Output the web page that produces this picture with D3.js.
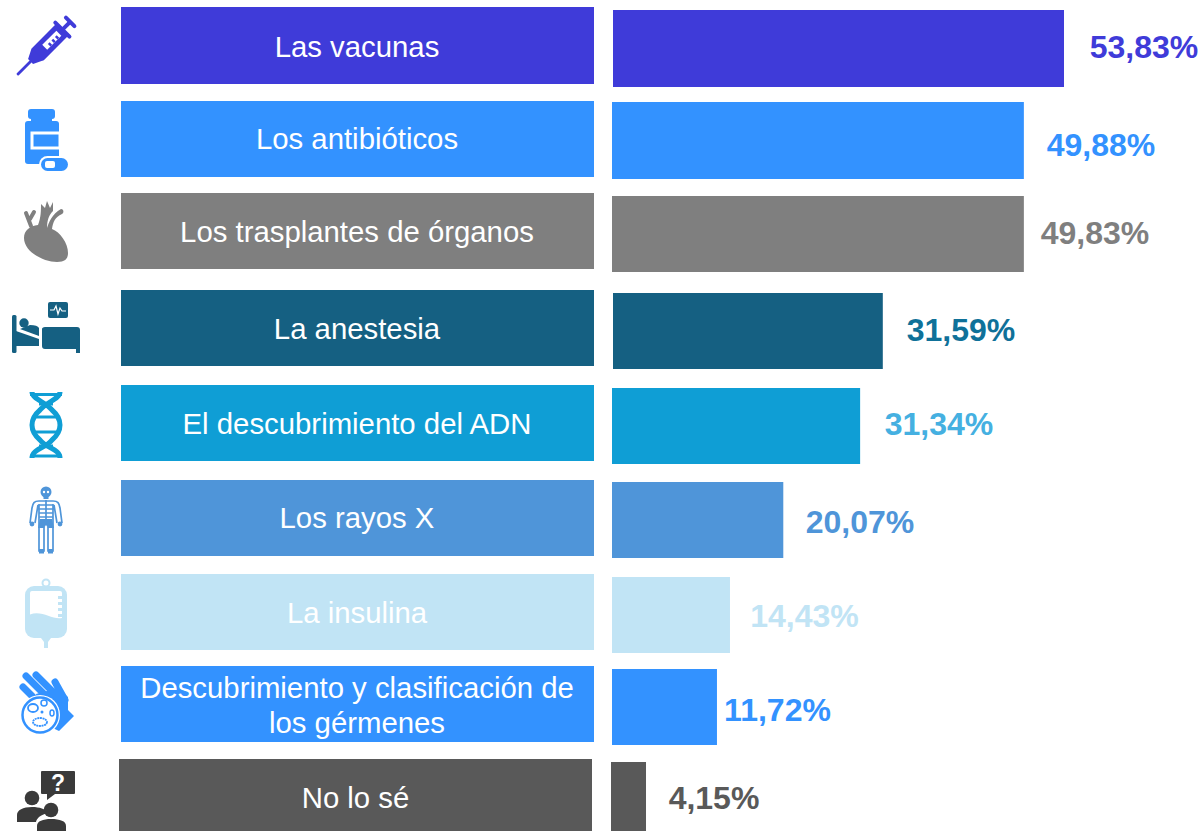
<!DOCTYPE html>
<html><head><meta charset="utf-8">
<script src="https://cdnjs.cloudflare.com/ajax/libs/d3/7.8.5/d3.min.js"></script>
<style>html,body{margin:0;padding:0;background:#fff}svg{display:block}text{font-family:"Liberation Sans",Arial,sans-serif}</style>
</head><body><svg id="c" width="1202" height="831"></svg>
<script>
const categories=["Las vacunas","Los antibióticos","Los trasplantes de órganos","La anestesia","El descubrimiento del ADN","Los rayos X","La insulina","Descubrimiento y clasificación de|los gérmenes","No lo sé"];
const printedLabels=["53,83%","49,88%","49,83%","31,59%","31,34%","20,07%","14,43%","11,72%","4,15%"];
// Lengths as drawn in the picture (the printed figures and the bar lengths differ slightly)
const drawnValues=[53.83,49.05,49.05,32.25,29.55,20.4,14.05,12.5,4.05];
const barColors=["#3F3BD9","#3392FF","#7F7F7F","#156082","#0F9ED5","#4F95D9","#C1E4F5","#3392FF","#595959"];
const valueColors=["#3F3BD9","#3392FF","#7F7F7F","#0F7199","#45B0E1","#4F95D9","#C1E4F5","#3392FF","#595959"];
const iconColors=["#3F3BD9","#3392FF","#7F7F7F","#156082","#0F9ED5","#4F95D9","#C1E4F5","#3392FF","#3A3A3A"];

const svg=d3.select("#c");
const keys=categories.map((_,i)=>i);
const x=d3.scaleLinear().domain([0,53.83]).range([612,1064]);
const labelTop=d3.scaleOrdinal(keys,[7,101,193,290,385,480,574,666,759]);
const labelBottom=d3.scaleOrdinal(keys,[84,177,269,366,461,556,650,742,831]);
const labelMid=d3.scaleOrdinal(keys,[47,139,232,329,424,518,613,705.5,797.5]);
const labelCenter=d3.scaleOrdinal(keys,[357,357,357,357,357,357,357,357,355.5]);
const barTop=d3.scaleOrdinal(keys,[10,102,196,293,388,482,577,669,762]);
const barBottom=d3.scaleOrdinal(keys,[87,179,272,369,464,558,653,745,831]);
const barStart=d3.scaleOrdinal(keys,[613,612,612,613,612,612,612,612,611]);
const valueMid=d3.scaleOrdinal(keys,[47,145,233,330,424,522,616,710,798]);
const valueX=d3.scaleOrdinal(keys,[1144,1101,1095,961,939,860,804.5,777.5,714]);

svg.selectAll("rect.lab").data(keys).join("rect").attr("class","lab")
 .attr("x",i=>i===8?119:121).attr("y",labelTop)
 .attr("width",473).attr("height",i=>labelBottom(i)-labelTop(i))
 .attr("fill",i=>barColors[i]);
svg.selectAll("rect.bar").data(keys).join("rect").attr("class","bar")
 .attr("x",barStart).attr("y",barTop)
 .attr("width",i=>x(drawnValues[i])-barStart(i)).attr("height",i=>barBottom(i)-barTop(i))
 .attr("fill",i=>barColors[i]);
const tg=svg.selectAll("text.lab").data(keys).join("text").attr("class","lab")
 .attr("text-anchor","middle").attr("fill","#fff").attr("font-size",29.33);
tg.each(function(i){
  const lines=categories[i].split("|"),t=d3.select(this);
  lines.forEach((l,k)=>t.append("tspan").attr("x",labelCenter(i)).attr("y",labelMid(i)+10+(k-(lines.length-1)/2)*35).text(l));
});
svg.selectAll("text.val").data(keys).join("text").attr("class","val")
 .attr("x",valueX).attr("y",i=>valueMid(i)+11).attr("text-anchor","middle")
 .attr("font-size",32).attr("font-weight","bold").attr("fill",i=>valueColors[i]).text(i=>printedLabels[i]);

const icons=[
 g=>{ // syringe
  const c=iconColors[0];
  g.attr("transform","translate(44,48) rotate(45)");
  g.append("rect").attr("x",-8.5).attr("y",-26).attr("width",17).attr("height",36).attr("rx",2).attr("fill",c);
  g.append("rect").attr("x",-12).attr("y",-28).attr("width",24).attr("height",4).attr("rx",2).attr("fill",c);
  g.append("rect").attr("x",-2).attr("y",-36).attr("width",4).attr("height",10).attr("fill",c);
  g.append("rect").attr("x",-8).attr("y",-39).attr("width",16).attr("height",4).attr("rx",2).attr("fill",c);
  g.append("path").attr("d","M-8.5,9H8.5L3.5,19H-3.5Z").attr("fill",c);
  g.append("rect").attr("x",-1.4).attr("y",18).attr("width",2.8).attr("height",20).attr("rx",1).attr("fill",c);
  g.append("rect").attr("x",-3.5).attr("y",-21).attr("width",7).attr("height",20).attr("fill","#fff");
  [-18,-13,-8].forEach(d=>g.append("rect").attr("x",0).attr("y",d).attr("width",3.5).attr("height",2.5).attr("fill",c));
 },
 g=>{ // pill bottle
  const c=iconColors[1];
  g.append("rect").attr("x",28).attr("y",109).attr("width",27).attr("height",10).attr("rx",3).attr("fill",c);
  g.append("rect").attr("x",31).attr("y",117).attr("width",21).attr("height",6).attr("fill",c);
  g.append("rect").attr("x",25).attr("y",121).attr("width",34).attr("height",43).attr("rx",3).attr("fill",c);
  g.append("rect").attr("x",32).attr("y",133).attr("width",28).attr("height",15).attr("fill",c).attr("stroke","#fff").attr("stroke-width",3);
  g.append("rect").attr("x",60).attr("y",130).attr("width",4).attr("height",20).attr("fill","#fff");
  g.append("rect").attr("x",39).attr("y",156).attr("width",31).attr("height",17).attr("rx",8.5).attr("fill","#fff");
  g.append("rect").attr("x",41).attr("y",158).attr("width",27).attr("height",13).attr("rx",6.5).attr("fill",c);
  g.append("rect").attr("x",45).attr("y",161).attr("width",10).attr("height",7).attr("rx",2).attr("fill","#fff");
 },
 g=>{ // heart
  const c=iconColors[2];
  g.append("path").attr("fill",c).attr("d","M24,238C24,230 30,226 38,225C41,218 41,210 41,204L45,208L47,201L50,208L53,202L53,211C49,215 47,220 47,228C49,222 52,214 61,209C64,209 64,213 62,214C55,217 53,222 52,229C60,232 68,243 68,253C68,259 65,262 57,262C44,262 24,252 24,238Z");
  g.append("path").attr("fill","none").attr("stroke",c).attr("stroke-width",4).attr("stroke-linecap","round").attr("d","M31,226L26,213M30,219L34,212");
 },
 g=>{ // hospital bed
  const c=iconColors[3];
  g.append("rect").attr("x",48).attr("y",302).attr("width",20).attr("height",16).attr("rx",2).attr("fill",c);
  g.append("path").attr("d","M50,310H54L56,306L58,314L60,308L62,311H66").attr("fill","none").attr("stroke","#fff").attr("stroke-width",1.2);
  g.append("rect").attr("x",12).attr("y",315).attr("width",4.5).attr("height",38).attr("rx",1.5).attr("fill",c);
  g.append("path").attr("fill",c).attr("d","M16,331L39,339V346H16Z");
  g.append("circle").attr("cx",24).attr("cy",323).attr("r",4.7).attr("fill",c);
  g.append("path").attr("fill",c).attr("d","M20,329L30,325C35,325 38,326 39,328V336Z");
  g.append("path").attr("fill",c).attr("d","M42,329C42,328 43,327 45,327H77C79,327 80,328 80,330V353H76V349H45C43,349 42,348 42,346Z");
 },
 g=>{ // DNA
  const c=iconColors[4];
  g.append("path").attr("fill","none").attr("stroke",c).attr("stroke-width",5).attr("d","M32,392C32,399 46,402 52,410C59,416 60,421 60,425C60,429 59,434 52,440C46,448 32,449 32,458M60,392C60,399 46,402 40,410C33,416 32,421 32,425C32,429 33,434 40,440C46,448 60,449 60,458");
  [[30,394.5,62],[39,404,53],[33,417,59],[33,432,59],[39,446,53],[30,456,62]].forEach(d=>g.append("line").attr("x1",d[0]).attr("x2",d[2]).attr("y1",d[1]).attr("y2",d[1]).attr("stroke",c).attr("stroke-width",3));
 },
 g=>{ // skeleton
  const c=iconColors[5];
  g.append("circle").attr("cx",46).attr("cy",492).attr("r",5.5).attr("fill",c);
  g.append("rect").attr("x",43.5).attr("y",496).attr("width",5).attr("height",3).attr("fill",c);
  g.append("circle").attr("cx",44).attr("cy",492).attr("r",1.2).attr("fill","#fff");
  g.append("circle").attr("cx",48).attr("cy",492).attr("r",1.2).attr("fill","#fff");
  g.append("path").attr("fill","none").attr("stroke",c).attr("stroke-width",1.7)
   .attr("d","M39,501H53C58,501 59,503 60,508L62,523M39,501C34,501 33,503 32,508L30,523M38,505L35,523M54,505L57,523M39,504V527M53,504V527M39,527V551H44V527M53,527V551H48V527");
  g.append("path").attr("fill","none").attr("stroke",c).attr("stroke-width",1.7).attr("d","M39,505H53M39,509H53M39,513H53M39,517H53M46,500V519");
  g.append("path").attr("fill",c).attr("d","M40,519H52L54,528H48L46,525L44,528H38Z");
  g.append("circle").attr("cx",32).attr("cy",524).attr("r",2.4).attr("fill",c);
  g.append("circle").attr("cx",60).attr("cy",524).attr("r",2.4).attr("fill",c);
  g.append("rect").attr("x",39).attr("y",549).attr("width",5).attr("height",4.5).attr("fill",c);
  g.append("rect").attr("x",48).attr("y",549).attr("width",5).attr("height",4.5).attr("fill",c);
 },
 g=>{ // IV bag
  const c=iconColors[6];
  g.append("circle").attr("cx",46).attr("cy",583).attr("r",3.5).attr("fill","none").attr("stroke",c).attr("stroke-width",2);
  g.append("rect").attr("x",25).attr("y",586).attr("width",42).attr("height",52).attr("rx",9).attr("fill",c);
  g.append("path").attr("fill","#fff").attr("d","M30,593Q30,591 32,591H60Q62,591 62,593V618C52,620 42,610 30,614.5Z");
  [596,602,608,614].forEach(y=>g.append("rect").attr("x",58).attr("y",y).attr("width",5).attr("height",3).attr("fill",c));
  g.append("path").attr("fill",c).attr("d","M41,638H51L48,642V648H44V642Z");
 },
 g=>{ // hand and dish
  const c=iconColors[7];
  g.append("path").attr("fill",c).attr("d","M36,694L58,688L68,697L68,710L74,716L59,731L40,722Z");
  g.append("path").attr("fill","none").attr("stroke",c).attr("stroke-width",7).attr("stroke-linecap","round")
   .attr("d","M23,687L40,704M26,676L50,700M36,675L60,699M55,682L65,700");
  g.append("circle").attr("cx",40).attr("cy",715).attr("r",20).attr("fill","#fff");
  g.append("circle").attr("cx",40).attr("cy",715).attr("r",17.5).attr("fill","none").attr("stroke",c).attr("stroke-width",2.5);
  g.append("ellipse").attr("cx",33).attr("cy",708).attr("rx",5).attr("ry",4).attr("fill","none").attr("stroke",c).attr("stroke-width",1.8);
  g.append("circle").attr("cx",44).attr("cy",703).attr("r",3).attr("fill","none").attr("stroke",c).attr("stroke-width",1.5);
  g.append("ellipse").attr("cx",52).attr("cy",713).attr("rx",2).attr("ry",3).attr("fill","none").attr("stroke",c).attr("stroke-width",1.5);
  g.append("circle").attr("cx",42).attr("cy",712).attr("r",1.5).attr("fill",c);
  g.append("ellipse").attr("cx",40).attr("cy",722).attr("rx",7).attr("ry",4).attr("fill","none").attr("stroke",c).attr("stroke-width",1.8).attr("stroke-dasharray","2 0.6");
 },
 g=>{ // people with question
  const c=iconColors[8];
  g.append("path").attr("fill",c).attr("d","M41,772Q41,771 42,771H74Q75,771 75,772V793Q75,794 74,794H55L47,800V794H42Q41,794 41,793Z");
  g.append("text").attr("x",58).attr("y",791).attr("text-anchor","middle").attr("font-size",23).attr("font-weight","bold").attr("fill","#fff").text("?");
  g.append("circle").attr("cx",32).attr("cy",798).attr("r",7.3).attr("fill",c);
  g.append("path").attr("fill",c).attr("d","M17,822V815C17,810 23,807 32,807C40,807 45,809 48,813C40,815 37,818 36,822Z");
  g.append("circle").attr("cx",51).attr("cy",810).attr("r",7.3).attr("fill",c);
  g.append("path").attr("fill",c).attr("d","M37,831V826C37,821 43,819 51,819C60,819 66,821 66,826V831Z");
 }
];
svg.selectAll("g.icon").data(keys).join("g").attr("class","icon").each(function(i){icons[i](d3.select(this));});
</script></body></html>
